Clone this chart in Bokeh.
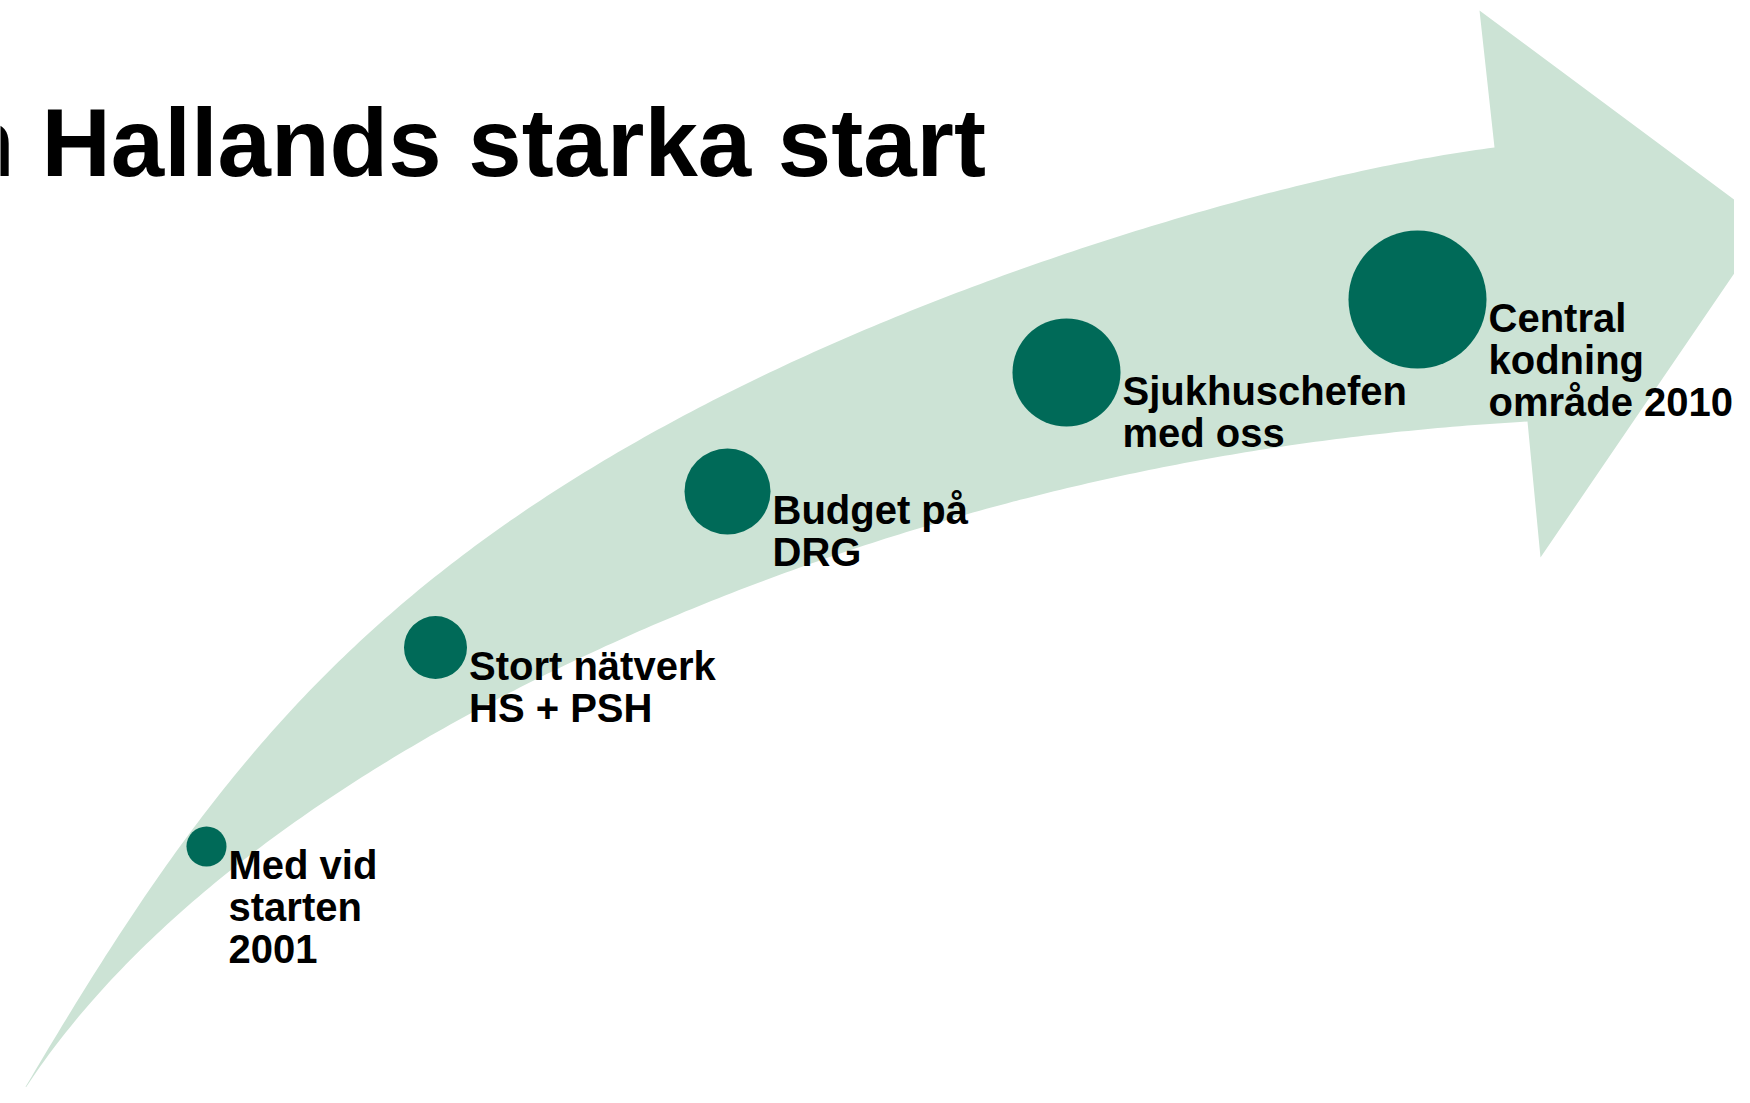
import numpy as np
from math import comb
from bokeh.plotting import figure
from bokeh.models import Range1d
from bokeh.core.properties import value
from bokeh.embed import file_html
from bokeh.resources import INLINE

# ---- content -------------------------------------------------------------
title_cut = "n"                       # last letter of the first word, cut by the slide edge
title_text = "Hallands starka start"

labels = [
    ["Med vid", "starten", "2001"],
    ["Stort nätverk", "HS + PSH"],
    ["Budget på", "DRG"],
    ["Sjukhuschefen", "med oss"],
    ["Central", "kodning", "område 2010"],
]
dot_x = [206, 435, 727, 1066, 1417]
dot_y = [846, 647, 491, 372, 299]
dot_r = [20, 31.5, 43, 54, 69]

# arrow outline (pixel coordinates, y downwards)
arrow_upper = [(17, 1100), (60, 1030), (110, 952), (173, 858), (233, 780), (295, 703),
               (350, 645), (418, 582), (500, 527), (580, 477), (680, 421), (780, 372),
               (900, 315), (1013, 267), (1147, 223), (1280, 190), (1400, 167), (1494, 147)]
arrow_head = [(1479, 10), (1767, 224), (1540, 557), (1527, 421)]
arrow_lower = [(1527, 421), (1400, 433), (1280, 448), (1147, 470), (1013, 500), (900, 530),
               (800, 565), (713, 600), (613, 646), (520, 690), (470, 715), (380, 763),
               (333, 791), (227, 872), (133, 957), (67, 1030), (17, 1100)]

ARROW = "#cce3d5"
DOT = "#006a58"
FONT = "Liberation Sans"
LABEL_SIZE = 40
TITLE_SIZE = 96
BASE_SHIFT = 0.35   # bokeh places the alphabetic baseline this fraction of size lower


def bern(n, t):
    return np.stack([comb(n, k) * t ** k * (1 - t) ** (n - k) for k in range(n + 1)], axis=1)


def smooth_edge(points, deg=4, iters=25, samples=240):
    """Smooth Bezier through the read-off edge points (ends fixed)."""
    P = np.array(points, float)
    d = np.r_[0, np.cumsum(np.hypot(*np.diff(P, axis=0).T))]
    t = d / d[-1]
    ts = np.linspace(0, 1, 3001)
    for _ in range(iters):
        B = bern(deg, t)
        rhs = P - np.outer(B[:, 0], P[0]) - np.outer(B[:, -1], P[-1])
        C, *_ = np.linalg.lstsq(B[:, 1:-1], rhs, rcond=None)
        ctrl = np.vstack([P[0], C, P[-1]])
        curve = bern(deg, ts) @ ctrl
        dist = ((P[:, None, :] - curve[None, :, :]) ** 2).sum(-1)
        t = ts[dist.argmin(1)]
        t[0], t[-1] = 0.0, 1.0
    return bern(deg, np.linspace(0, 1, samples)) @ ctrl


W, H = 1734, 1087
p = figure(width=W, height=H, output_backend="svg", toolbar_location=None,
           x_range=Range1d(0, W), y_range=Range1d(H, 0),
           min_border=0, outline_line_color=None, background_fill_color="white",
           border_fill_color="white")
p.axis.visible = False
p.grid.visible = False

up = smooth_edge(arrow_upper)
lo = smooth_edge(arrow_lower)
xs = list(up[:, 0]) + [q[0] for q in arrow_head] + list(lo[1:, 0])
ys = list(up[:, 1]) + [q[1] for q in arrow_head] + list(lo[1:, 1])
p.patch(xs, ys, fill_color=ARROW, line_color=None)

# milestone dots
p.circle(x=dot_x, y=dot_y, radius=dot_r, radius_units="screen",
         fill_color=DOT, line_color=None)

# labels, one line per text glyph
lx, ly, lt = [], [], []
for x, y, r, lines in zip(dot_x, dot_y, dot_r, labels):
    for i, t in enumerate(lines):
        lx.append(x + r + 2)
        ly.append(y + 32.5 + i * 42 - BASE_SHIFT * LABEL_SIZE)
        lt.append(t)
p.text(x=lx, y=ly, text=lt, text_font=value(FONT), text_font_style="bold",
       text_font_size=f"{LABEL_SIZE}px", text_color="black", text_baseline="alphabetic",
       text_align="left")

# title
ty = 176 - BASE_SHIFT * TITLE_SIZE
p.text(x=[41], y=[ty], text=[title_text], text_font=value(FONT), text_font_style="bold",
       text_font_size=f"{TITLE_SIZE}px", text_color="black", text_baseline="alphabetic",
       text_align="left")
p.text(x=[-44.5], y=[ty], text=[title_cut], text_font=value(FONT), text_font_style="bold",
       text_font_size=f"{TITLE_SIZE}px", text_color="black", text_baseline="alphabetic",
       text_align="left")

open("out.html", "w").write(file_html(p, INLINE))
